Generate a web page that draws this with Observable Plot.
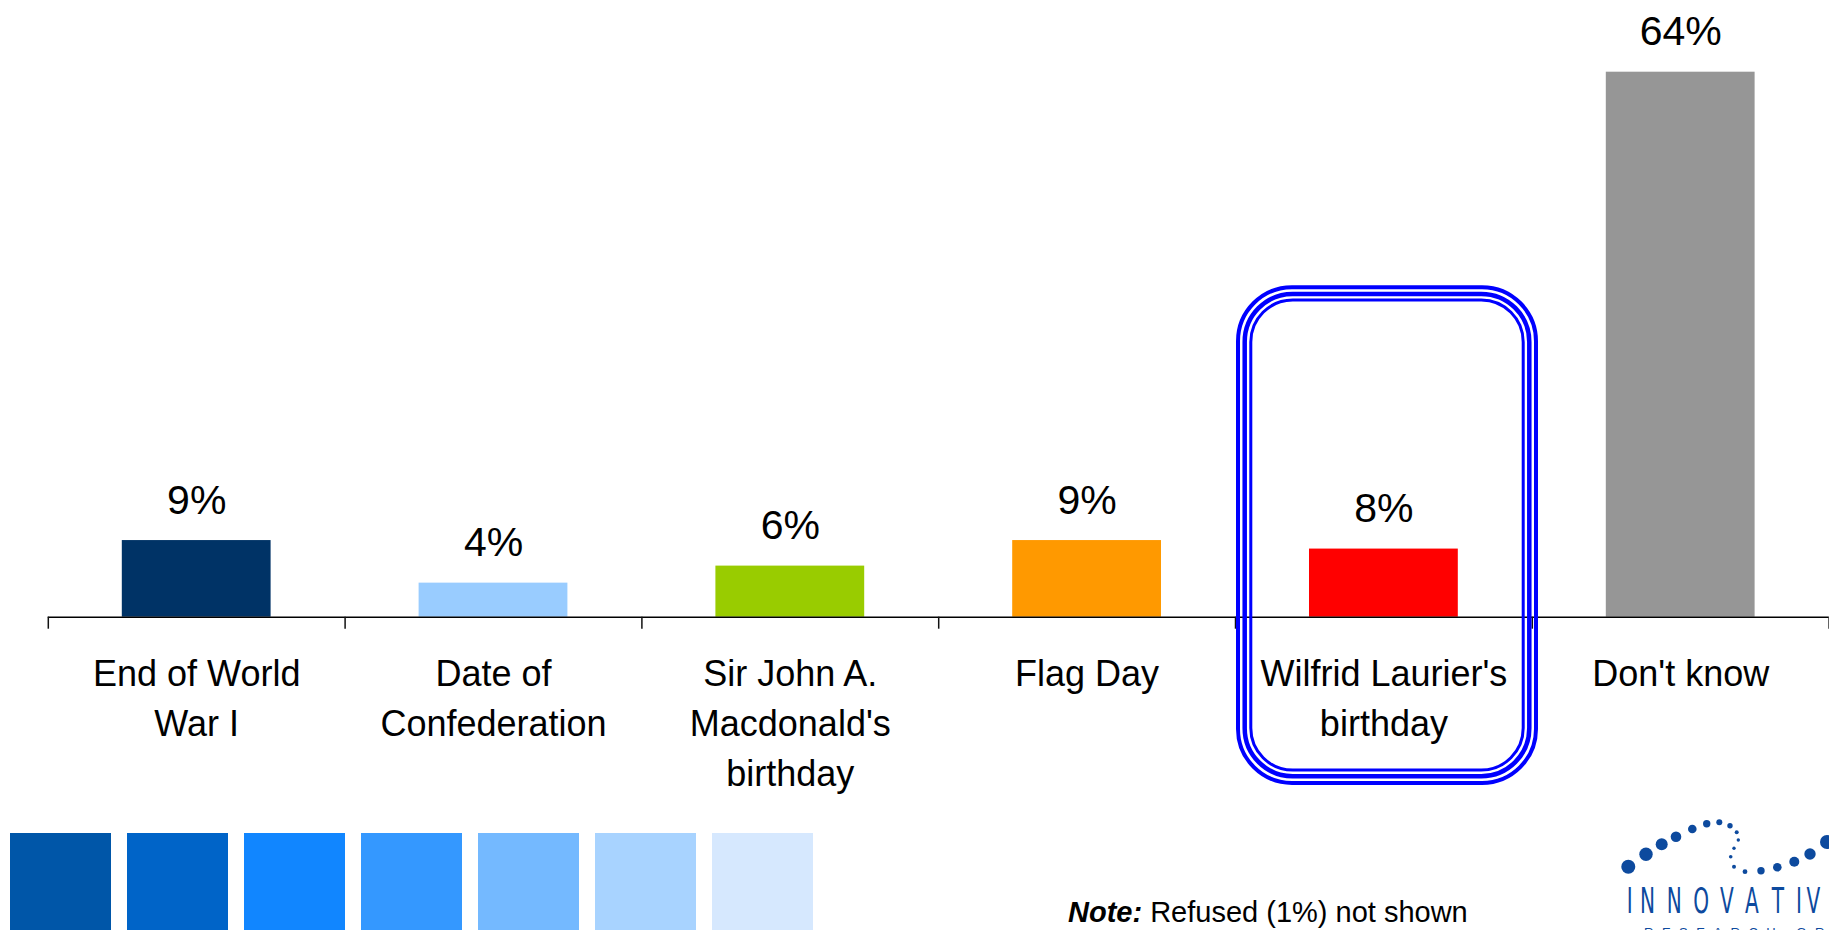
<!DOCTYPE html>
<html>
<head>
<meta charset="utf-8">
<script src="https://cdn.jsdelivr.net/npm/d3@7"></script>
<script src="https://cdn.jsdelivr.net/npm/@observablehq/plot@0.6"></script>
<style>
  html, body { margin: 0; padding: 0; background: #fff; }
  #wrap { position: relative; width: 1829px; height: 930px; overflow: hidden; font-family: "Liberation Sans", Arial, sans-serif; }
  #chart { position: absolute; left: 0; top: 0; }
  .swatch { position: absolute; top: 833px; width: 101px; height: 110px; }
  #note { position: absolute; left: 0; top: 0; }
  #logo { position: absolute; left: 1560px; top: 800px; }
</style>
</head>
<body>
<div id="wrap">
  <div id="chart"></div>
  <div id="swatches"></div>
  <svg id="note" width="1829" height="930" style="pointer-events:none">
    <text x="1068" y="922" font-family="Liberation Sans, Arial, sans-serif" font-size="29" fill="#000"><tspan font-weight="bold" font-style="italic">Note:</tspan> Refused (1%) not shown</text>
  </svg>
  <svg id="logo" width="269" height="130"></svg>
</div>
<script>
// ---- data ----
const categories = [
  "End of World\nWar I",
  "Date of\nConfederation",
  "Sir John A.\nMacdonald's\nbirthday",
  "Flag Day",
  "Wilfrid Laurier's\nbirthday",
  "Don't know"
];
const values = [9, 4, 6, 9, 8, 64];
const valueLabels = ["9%", "4%", "6%", "9%", "8%", "64%"];
const barColors = ["#003366", "#99CCFF", "#99CC00", "#FF9900", "#FF0000", "#969696"];
const highlighted = "Wilfrid Laurier's\nbirthday";
const swatchColors = ["#0056A8", "#0064C8", "#1186FF", "#3498FF", "#74B9FF", "#A8D3FF", "#D6E8FE"];

// ---- table ----
const table = categories.map((c, i) => ({category: c, i, value: values[i], label: valueLabels[i], color: barColors[i]}));
const hi = table.filter(d => d.category === highlighted);
const boxLow = -19.75, boxHigh = 38.93; // highlight box vertical extent (in % units)

const boxStroke = (inL, inR, inV, w, r) => Plot.rect(hi, {
  x1: d => d.i, x2: d => d.i + 1, y1: () => boxLow, y2: () => boxHigh,
  insetLeft: inL, insetRight: inR, insetTop: inV, insetBottom: inV,
  fill: "none", stroke: "#0000FF", strokeWidth: w, rx: r, ry: r
});

const chart = Plot.plot({
  width: 1829,
  height: 930,
  marginLeft: 47.8,
  marginRight: 0.4,
  marginTop: 71.7,
  marginBottom: 313.3,
  style: {fontFamily: "Liberation Sans, Arial, sans-serif", background: "transparent", overflow: "visible"},
  x: {domain: [0, categories.length], label: null},
  y: {domain: [0, 64], axis: null},
  marks: [
    Plot.rectY(table, {
      x1: d => d.i, x2: d => d.i + 1, y: "value",
      insetLeft: 74, insetRight: 74, fill: d => d.color
    }),
    Plot.text(table, {
      x: d => d.i + 0.5, y: "value", text: "label",
      dy: -27, lineAnchor: "bottom", fontSize: 41, fill: "#000"
    }),
    Plot.ruleY([0], {stroke: "#000", strokeWidth: 1.6}),
    Plot.axisX({
      ticks: d3.range(categories.length + 1), tickSize: 12, tickFormat: () => "",
      stroke: "#111", strokeWidth: 1.5, label: null
    }),
    Plot.text(table, {
      x: d => d.i + 0.5, y: () => 0, text: "category",
      dy: 33, lineAnchor: "top", fontSize: 36, lineHeight: 50 / 36, fill: "#000"
    }),
    boxStroke(3, -4.2, 2, 4, 54),
    boxStroke(9.7, 2.5, 8.7, 4.5, 48),
    boxStroke(15.8, 8.6, 14.8, 3, 42)
  ]
});
document.getElementById("chart").appendChild(chart);

// ---- decorative swatches ----
const sw = document.getElementById("swatches");
swatchColors.forEach((c, k) => {
  const d = document.createElement("div");
  d.className = "swatch";
  d.style.left = (10 + k * 117) + "px";
  d.style.background = c;
  sw.appendChild(d);
});

// ---- logo ----
const logoDots = [
  [68.3, 66.7, 7], [86, 54.3, 6.7], [101.7, 44.3, 6], [116, 36.7, 5.3], [132.3, 29, 4.3],
  [146.7, 23.7, 3.7], [159.3, 22.3, 3], [170, 25.7, 2.7], [176.7, 32.3, 2], [178.3, 40, 1.7],
  [174, 48.3, 1.7], [170.7, 56.7, 1.8], [174, 66.7, 2], [185, 71.7, 2.4], [201, 70.7, 3.7],
  [217.3, 67.3, 4.3], [234.3, 61.7, 5], [250, 54, 5.7], [267, 42, 7]
];
const logoLetters = [["I", 66.7], ["N", 80], ["N", 106.7], ["O", 133.3], ["V", 160], ["A", 185], ["T", 211.7], ["I", 236], ["V", 246.5]];
const logo = d3.select("#logo");
const logoBlue = "#0D4A9E";
logo.selectAll("circle").data(logoDots).join("circle")
  .attr("cx", d => d[0]).attr("cy", d => d[1]).attr("r", d => d[2]).attr("fill", logoBlue);
logo.selectAll("text.big").data(logoLetters).join("text").attr("class", "big")
  .attr("transform", d => `translate(${d[1]},113) scale(0.62,1)`)
  .attr("font-family", "Liberation Sans Narrow, DejaVu Sans Condensed, Liberation Sans, sans-serif")
  .attr("font-size", 36).attr("fill", logoBlue).text(d => d[0]);
logo.append("text").attr("x", 84).attr("y", 137)
  .attr("font-family", "Liberation Sans, sans-serif").attr("font-size", 13)
  .attr("letter-spacing", 8.5).attr("fill", logoBlue).text("RESEARCH GROUP");
</script>
</body>
</html>
